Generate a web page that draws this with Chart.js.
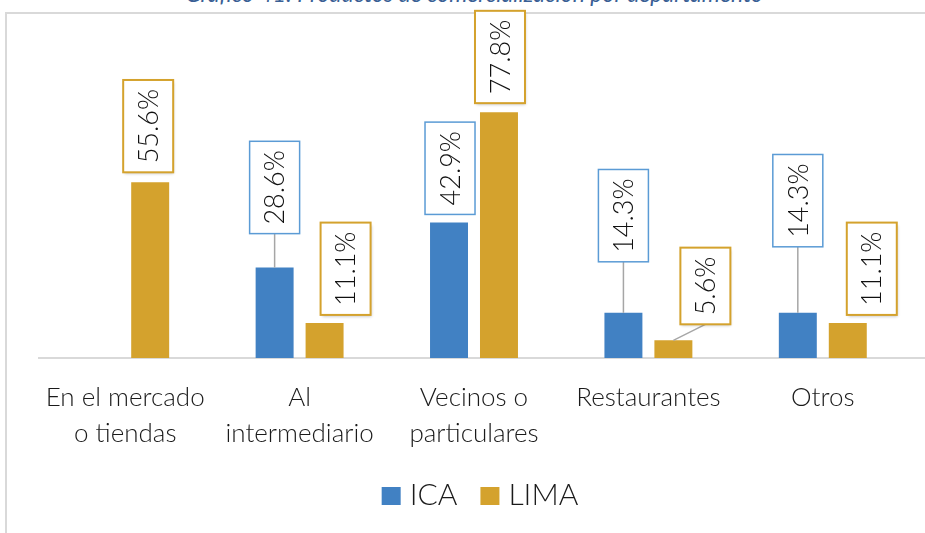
<!DOCTYPE html>
<html>
<head>
<meta charset="utf-8">
<script src="https://cdn.jsdelivr.net/npm/chart.js@4.4.1/dist/chart.umd.min.js"></script>
<style>
  html, body { margin: 0; padding: 0; background: #fff; overflow: hidden; }
  #wrap { position: relative; width: 925px; height: 533px; overflow: hidden; }
  #frame { position: absolute; left: 5px; top: 12px; width: 960px; height: 560px; border: 2px solid #d9d9d9; box-sizing: border-box; }
  #title { position: absolute; left: 0; width: 948px; top: -18px; text-align: center; font: italic 23px "Lato", sans-serif; line-height: 23px; color: #3A5F95; }
  canvas { position: absolute; left: 0; top: 0; }
</style>
</head>
<body>
<div id="wrap">
  <div id="frame"></div>
  <div id="title">Gráfico 41: Productos de comercialización por departamento</div>
  <canvas id="barChart" width="925" height="533"></canvas>
</div>
<script>
// data
var categories = [['En el mercado', 'o tiendas'], ['Al', 'intermediario'], ['Vecinos o', 'particulares'], 'Restaurantes', 'Otros'];
var icaValues = [null, 28.6, 42.9, 14.3, 14.3];
var limaValues = [55.6, 11.1, 77.8, 5.6, 11.1];

// axis line runs out to the right edge of the frame
var baseLine = {
    id: 'baseLine',
    beforeDatasetsDraw: function (chart) {
        var ctx = chart.ctx;
        var y = chart.scales.x.top;
        ctx.save();
        ctx.strokeStyle = '#d9d9d9';
        ctx.lineWidth = 2;
        ctx.beginPath();
        ctx.moveTo(chart.chartArea.left, y);
        ctx.lineTo(chart.width, y);
        ctx.stroke();
        ctx.restore();
    }
};

// legend drawn below the axis labels, tighter box/text gap than the default one
var bottomLegend = {
    id: 'bottomLegend',
    afterDraw: function (chart, args, opts) {
        var ctx = chart.ctx;
        var sets = chart.data.datasets;
        ctx.save();
        ctx.font = '300 30px Lato';
        var total = 0;
        sets.forEach(function (ds, i) {
            total += 19 + 9 + ctx.measureText(ds.label).width + (i < sets.length - 1 ? 23 : 0);
        });
        var x = opts.centerX - total / 2;
        var base = chart.scales.x.bottom + opts.offset;
        sets.forEach(function (ds) {
            ctx.fillStyle = ds.backgroundColor;
            ctx.fillRect(x, base - 18, 19, 18);
            x += 28;
            ctx.fillStyle = '#1a1a1a';
            ctx.textBaseline = 'alphabetic';
            ctx.fillText(ds.label, x, base);
            x += ctx.measureText(ds.label).width + 23;
        });
        ctx.restore();
    }
};

// boxed, rotated value labels (label shift x, gap above bar)
var boxLabels = {
    id: 'boxLabels',
    afterDatasetsDraw: function (chart, args, opts) {
        var ctx = chart.ctx;
        ctx.save();
        ctx.font = '300 27px Lato';
        chart.data.datasets.forEach(function (ds, i) {
            var meta = chart.getDatasetMeta(i);
            meta.data.forEach(function (bar, j) {
                var v = ds.data[j];
                if (v === null) return;
                var text = v.toFixed(1) + '%';
                var place = opts.place[i][j];
                var tw = ctx.measureText(text).width;
                var h = tw + 18, w = 50;
                var cx = bar.x + place[0];
                var bottom = bar.y - place[1];
                var top = bottom - h;
                if (place[1] > 12) {
                    ctx.strokeStyle = '#a6a6a6';
                    ctx.lineWidth = 1.5;
                    ctx.beginPath();
                    ctx.moveTo(bar.x, bar.y);
                    ctx.lineTo(cx, bottom);
                    ctx.stroke();
                }
                ctx.save();
                if (i === 1) {
                    ctx.shadowColor = 'rgba(0,0,0,0.25)';
                    ctx.shadowBlur = 3;
                    ctx.shadowOffsetX = 1;
                    ctx.shadowOffsetY = 2;
                }
                ctx.fillStyle = '#fff';
                ctx.fillRect(cx - w / 2, top, w, h);
                ctx.restore();
                ctx.strokeStyle = opts.borders[i];
                ctx.lineWidth = i === 1 ? 2 : 1.5;
                ctx.strokeRect(cx - w / 2, top, w, h);
                ctx.save();
                ctx.translate(cx + 1, top + h / 2);
                ctx.rotate(-Math.PI / 2);
                ctx.fillStyle = '#111';
                ctx.textAlign = 'center';
                ctx.textBaseline = 'middle';
                ctx.fillText(text, 0, 0);
                ctx.restore();
            });
        });
        ctx.restore();
    }
};

var ctx = document.getElementById('barChart').getContext('2d');
var myChart = new Chart(ctx, {
    type: 'bar',
    data: {
        labels: categories,
        datasets: [{
            label: 'ICA',
            data: icaValues,
            backgroundColor: '#4181C3'
        }, {
            label: 'LIMA',
            data: limaValues,
            backgroundColor: '#D4A22D'
        }]
    },
    plugins: [baseLine, boxLabels, bottomLegend],
    options: {
        responsive: false,
        animation: false,
        datasets: {
            bar: { categoryPercentage: 0.573, barPercentage: 0.76 }
        },
        layout: { padding: { left: 38, right: 15, top: 42, bottom: 62 } },
        scales: {
            x: {
                grid: { display: false, drawTicks: false },
                border: { display: false },
                ticks: {
                    color: '#1a1a1a',
                    padding: 22,
                    maxRotation: 0,
                    autoSkip: false,
                    font: { family: 'Lato', size: 26, weight: '300', lineHeight: 1.385 }
                },
                afterFit: function (scale) { scale.height = 113; }
            },
            y: { display: false, min: 0, max: 100 }
        },
        plugins: {
            legend: { display: false },
            tooltip: { enabled: false },
            bottomLegend: { centerX: 480, offset: 34 },
            boxLabels: {
                borders: ['#5B9BD5', '#D4A22D'],
                place: [
                    [[0, 0], [0, 34], [1, 8], [0, 51], [0, 66]],
                    [[-2, 10], [21, 8], [1, 9], [32, 16], [24, 8]]
                ]
            }
        }
    }
});
</script>
</body>
</html>
